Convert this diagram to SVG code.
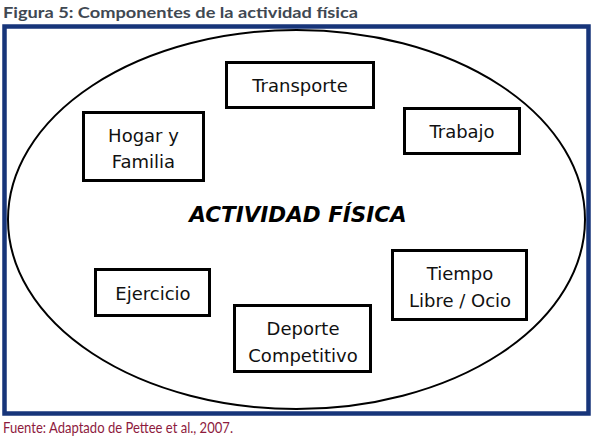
<svg xmlns="http://www.w3.org/2000/svg" width="600" height="441" viewBox="0 0 600 441">
  <style>
    .box { fill: #ffffff; stroke: #000000; stroke-width: 3; }
    .lbl { font-family: "DejaVu Sans", Verdana, sans-serif; font-size: 18px; fill: #111111; text-anchor: middle; }
    .main { font-family: "DejaVu Sans", Verdana, sans-serif; font-size: 21.5px; font-weight: bold; font-style: italic; fill: #000000; text-anchor: middle; }
    .title { font-family: Lato, "Open Sans", sans-serif; font-size: 16px; font-weight: bold; fill: #404852; }
    .src { font-family: Lato, "Open Sans", sans-serif; font-size: 16px; fill: #8e1b3e; }
  </style>
  <rect width="600" height="441" fill="#ffffff"/>
  <text class="title" x="3" y="17.5" textLength="355" lengthAdjust="spacingAndGlyphs">Figura 5: Componentes de la actividad física</text>
  <rect x="4.5" y="26.5" width="584" height="387" fill="none" stroke="#17357a" stroke-width="4.5"/>
  <text class="src" x="3" y="433" textLength="230" lengthAdjust="spacingAndGlyphs">Fuente: Adaptado de Pettee et al., 2007.</text>

  <g id="ellipse">
    <ellipse cx="296.5" cy="219.5" rx="288.5" ry="189.5" fill="none" stroke="#000000" stroke-width="2"/>
    <text class="main" x="298" y="222">ACTIVIDAD FÍSICA</text>
  </g>
  <g id="connectors"></g>

  <g id="transporte">
    <rect class="box" x="226.5" y="62.5" width="147" height="45"/>
    <text class="lbl" x="300" y="92">Transporte</text>
  </g>
  <g id="hogar">
    <rect class="box" x="83.5" y="112.5" width="120" height="68"/>
    <text class="lbl" x="143.5" y="142">Hogar y</text>
    <text class="lbl" x="143.5" y="168">Familia</text>
  </g>
  <g id="trabajo">
    <rect class="box" x="404.5" y="108.5" width="115" height="45"/>
    <text class="lbl" x="462" y="138">Trabajo</text>
  </g>
  <g id="ejercicio">
    <rect class="box" x="95.5" y="269.5" width="114" height="46"/>
    <text class="lbl" x="153" y="300">Ejercicio</text>
  </g>
  <g id="deporte">
    <rect class="box" x="234.5" y="305.5" width="136" height="66"/>
    <text class="lbl" x="303" y="335">Deporte</text>
    <text class="lbl" x="303" y="362">Competitivo</text>
  </g>
  <g id="tiempo">
    <rect class="box" x="392.5" y="250.5" width="134" height="69"/>
    <text class="lbl" x="460" y="280">Tiempo</text>
    <text class="lbl" x="460" y="307">Libre / Ocio</text>
  </g>
</svg>
